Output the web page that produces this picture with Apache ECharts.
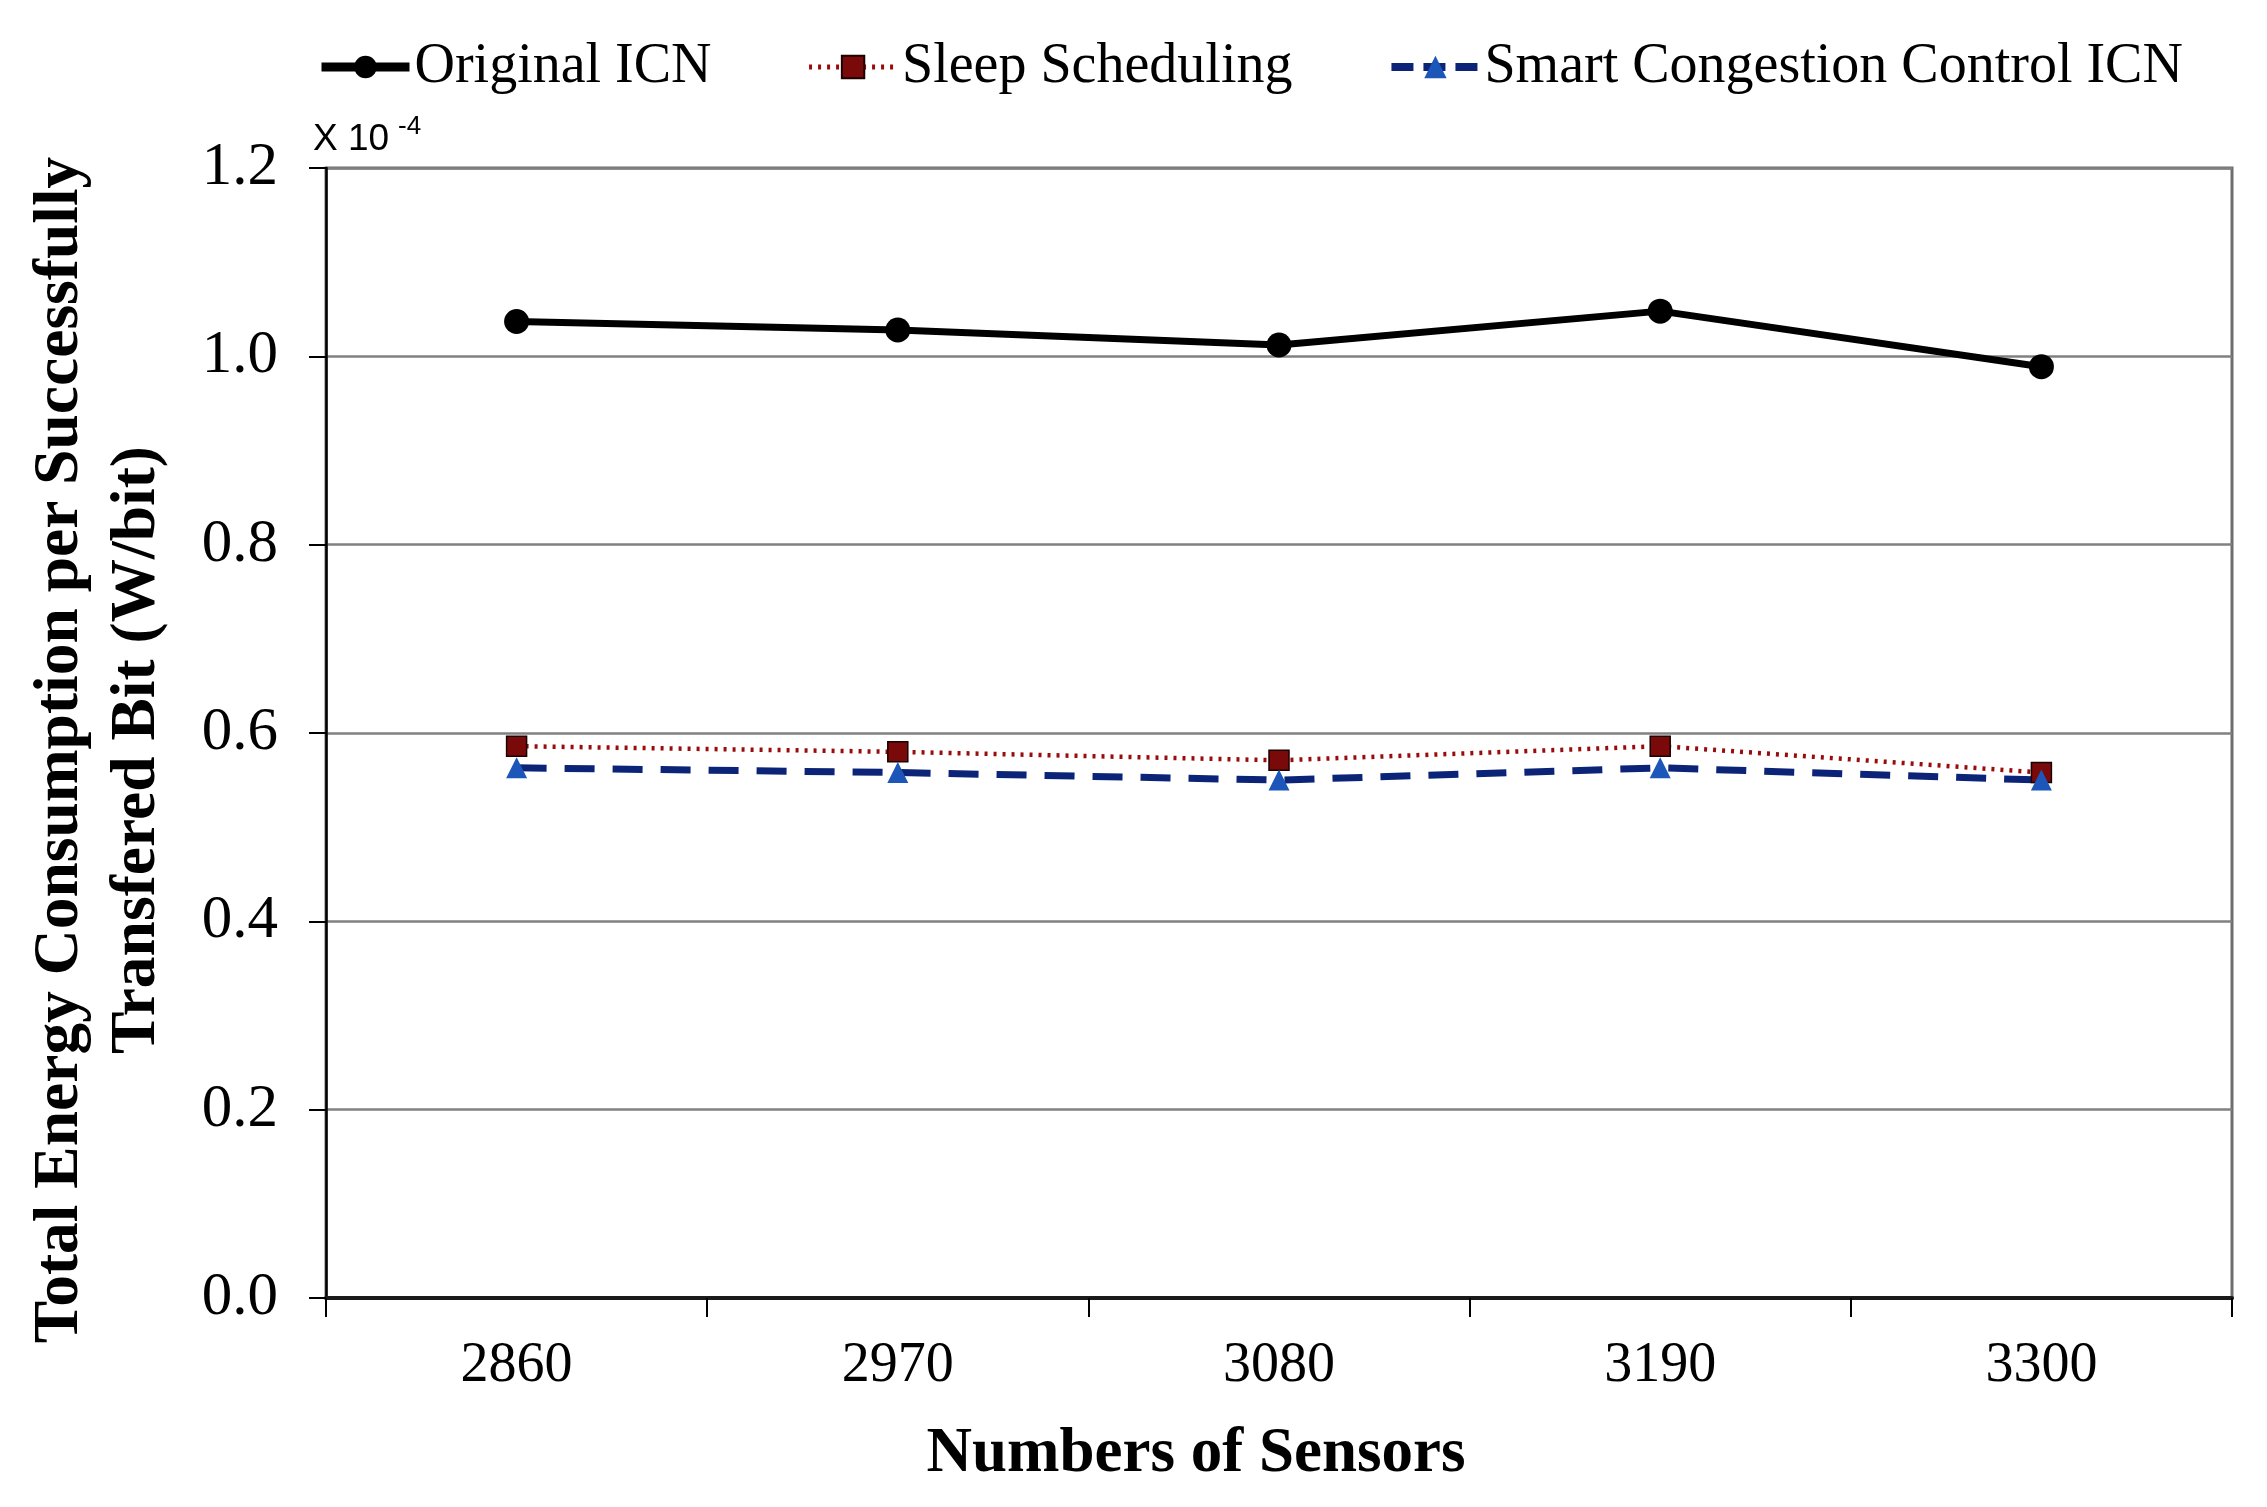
<!DOCTYPE html>
<html>
<head>
<meta charset="utf-8">
<script src="https://cdn.jsdelivr.net/npm/echarts@6/dist/echarts.min.js"></script>
<style>
html,body{margin:0;padding:0;background:#fff;}
#chart{width:2267px;height:1507px;}
</style>
</head>
<body>
<div id="chart"></div>
<script>
const categories = ['2860', '2970', '3080', '3190', '3300'];
const originalICN = [1.037, 1.028, 1.012, 1.048, 0.989];
const sleepScheduling = [0.586, 0.580, 0.571, 0.586, 0.558];
const smartCongestion = [0.563, 0.558, 0.550, 0.563, 0.550];
const seriesNames = ['Original ICN', 'Sleep Scheduling', 'Smart Congestion Control ICN'];
const yTicks = { min: 0, max: 1.2, interval: 0.2 };

const chart = echarts.init(document.getElementById('chart'), null, { renderer: 'canvas' });
const serif = 'Liberation Serif';

const lineStyles = [
  { color: '#000', width: 7 },
  { color: '#9a0c0c', width: 4.5, type: [3, 6] },
  { color: '#0c2478', width: 7, type: [30, 18] }
];

chart.setOption({
  backgroundColor: '#fff',
  animation: false,
  grid: {
    left: 326, right: 35, top: 168, bottom: 209,
    show: true, borderColor: '#6e6e6e', borderWidth: 3, backgroundColor: 'transparent'
  },
  legend: {
    data: [
      { name: seriesNames[0], lineStyle: { width: 9, color: '#000' } },
      { name: seriesNames[1], lineStyle: { width: 5, color: '#9a0c0c', type: [3, 6] } },
      { name: seriesNames[2], lineStyle: { width: 8, color: '#0c2478', type: [22, 10] } }
    ],
    left: 312, top: 34,
    itemWidth: 88, itemHeight: 28, itemGap: 95,
    textStyle: { fontFamily: serif, fontSize: 56, color: '#000' }
  },
  graphic: [
    { type: 'text', left: 313, top: 121, style: { text: 'X 10', fontFamily: 'Liberation Sans', fontSize: 37, fill: '#000' } },
    { type: 'text', left: 398, top: 114, style: { text: '-4', fontFamily: 'Liberation Sans', fontSize: 26, fill: '#000' } }
  ],
  xAxis: {
    type: 'category',
    data: categories,
    boundaryGap: true,
    name: 'Numbers of Sensors',
    nameLocation: 'middle',
    nameGap: 125,
    nameTextStyle: { fontFamily: serif, fontSize: 63, fontWeight: 'bold', color: '#000', padding: [0, 166, 0, 0] },
    axisLine: { lineStyle: { color: '#1a1a1a', width: 4 } },
    axisTick: { show: true, length: 19, lineStyle: { color: '#000', width: 2 }, alignWithLabel: false },
    axisLabel: { fontFamily: serif, fontSize: 56, color: '#000', margin: 40 },
    splitLine: { show: false }
  },
  yAxis: {
    type: 'value',
    min: yTicks.min, max: yTicks.max, interval: yTicks.interval,
    name: 'Total Energy Consumption per Successfully\nTransfered Bit (W/bit)',
    nameLocation: 'middle',
    nameGap: 150,
    nameRotate: 90,
    nameTextStyle: { fontFamily: serif, fontSize: 63.5, fontWeight: 'bold', color: '#000', lineHeight: 77, align: 'center', padding: [0, 34, 0, 0] },
    axisLine: { show: true, lineStyle: { color: '#000', width: 2.5 } },
    axisTick: { show: true, length: 17, lineStyle: { color: '#000', width: 2 } },
    axisLabel: { fontFamily: serif, fontSize: 61, color: '#000', margin: 48, formatter: v => v.toFixed(1) },
    splitLine: { show: true, lineStyle: { color: '#808080', width: 2.5 } }
  },
  series: [
    {
      name: seriesNames[0], type: 'line', data: originalICN,
      symbol: 'circle', symbolSize: 25,
      lineStyle: lineStyles[0],
      itemStyle: { color: '#000' }
    },
    {
      name: seriesNames[1], type: 'line', data: sleepScheduling,
      symbol: 'rect', symbolSize: 20,
      lineStyle: lineStyles[1],
      itemStyle: { color: '#7a0a0a', borderColor: '#1a0000', borderWidth: 1.5 }
    },
    {
      name: seriesNames[2], type: 'line', data: smartCongestion,
      symbol: 'triangle', symbolSize: 21,
      lineStyle: lineStyles[2],
      itemStyle: { color: '#1c56b8' }
    }
  ]
});
</script>
</body>
</html>
